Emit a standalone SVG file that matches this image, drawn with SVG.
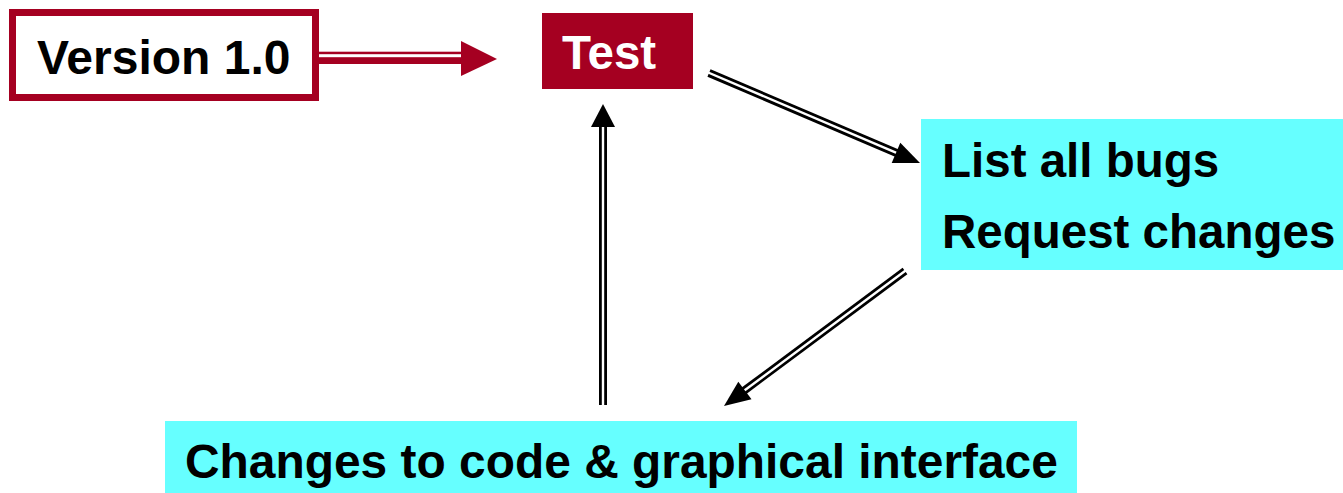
<svg xmlns="http://www.w3.org/2000/svg" width="1343" height="493" viewBox="0 0 1343 493">
<style>
.t{font-family:"Liberation Sans",Arial,sans-serif;font-weight:bold;font-size:47.5px;fill:#000}
.w{fill:#fff}
.blk{stroke:#000;stroke-width:8;fill:none}
.gap{stroke:#fff;stroke-width:2.4;fill:none}
.head{fill:#000}
</style>
<rect width="1343" height="493" fill="#fff"/>
<g id="version">
<rect x="12.5" y="12.5" width="303" height="85" fill="#fff" stroke="#A50021" stroke-width="7"/>
<text class="t" x="37" y="74" style="font-size:48px">Version 1.0</text>
</g>
<g id="test">
<rect x="542" y="13" width="151" height="76" fill="#A50021"/>
<text class="t w" x="562" y="69">Test</text>
</g>
<g id="bugs">
<rect x="921" y="119" width="422" height="151" fill="#66FFFF"/>
<text class="t" x="942" y="177">List all bugs</text>
<text class="t" x="942" y="248">Request changes</text>
</g>
<g id="changes">
<rect x="165" y="421" width="912" height="72" fill="#66FFFF"/>
<text class="t" x="185" y="478" style="font-size:47.9px">Changes to code &amp; graphical interface</text>
</g>
<g id="connectors">
<g id="c1">
<rect x="319" y="51.7" width="144" height="12.3" fill="#A50021"/>
<rect x="319" y="54.2" width="144" height="3" fill="#fff"/>
<polygon points="461,41 497,59 461,76" fill="#A50021"/>
</g>
<g id="c2">
<line class="blk" x1="709" y1="73" x2="899" y2="154"/>
<line class="gap" x1="707" y1="72" x2="900" y2="154.4"/>
<polygon class="head" points="920,163 900.3,142.7 891.7,162.9"/>
</g>
<g id="c3">
<line class="blk" x1="905" y1="271" x2="743" y2="391.5"/>
<line class="gap" x1="908" y1="268.8" x2="742" y2="392.3"/>
<polygon class="head" points="724,406 751.5,399.3 738.3,381.7"/>
</g>
<g id="c4">
<line class="blk" x1="603" y1="405" x2="603" y2="126"/>
<line class="gap" x1="603" y1="406" x2="603" y2="126"/>
<polygon class="head" points="603,104 615,127 591,127"/>
</g>
</g>
</svg>
